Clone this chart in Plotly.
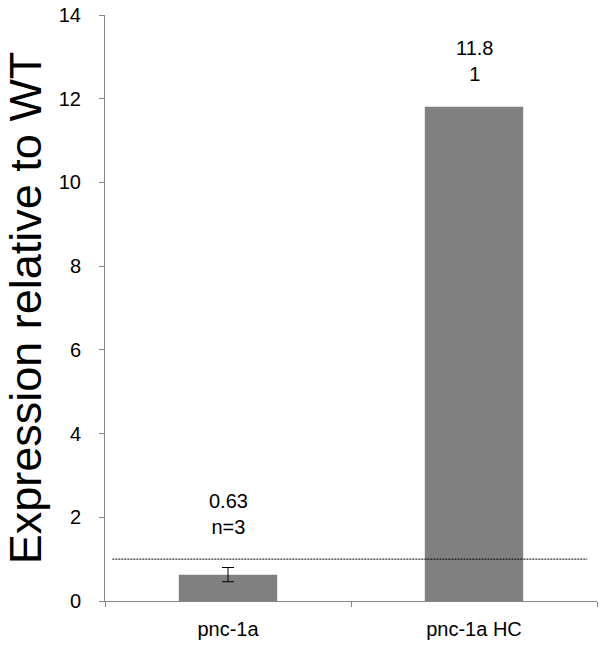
import plotly.graph_objects as go

# --- DATA ---
categories = ["pnc-1a", "pnc-1a HC"]
expression = [0.63, 11.81]
error_up = [0.17, None]
label_values = ["0.63", "11.8<br>1"]
label_n = ["n=3", ""]
wt_level = 1.0

C_BAR = "#808080"
C_AXIS = "#868686"
C_TEXT = "#000000"
FONT = "Liberation Sans, Arial, sans-serif"

fig = go.Figure()

# one trace per bar so only the measured one carries an error bar
for cat, val, err in zip(categories, expression, error_up):
    err_cfg = dict(visible=False)
    if err is not None:
        err_cfg = dict(type="data", array=[err], visible=True,
                       color="#000000", thickness=1, width=6)
    fig.add_trace(go.Bar(
        x=[cat], y=[val], width=0.4,
        marker=dict(color=C_BAR, line=dict(width=0)),
        error_y=err_cfg, showlegend=False
    ))

# data labels above the bars
shifts = [28, 20]
for i, (cat, val, txt, n) in enumerate(zip(categories, expression, label_values, label_n)):
    err = error_up[i] or 0
    text = txt if not n else f"{txt}<br>{n}"
    fig.add_annotation(x=cat, y=val + err, text=text, showarrow=False,
                       yanchor="bottom", yshift=shifts[i],
                       font=dict(size=20, color=C_TEXT, family=FONT))

# WT reference line
fig.add_shape(type="line", xref="x", yref="y", x0=-0.47, x1=1.46,
              y0=wt_level, y1=wt_level,
              line=dict(color="#000000", width=1, dash="2px,1px"))

fig.update_layout(
    width=604, height=649,
    paper_bgcolor="white", plot_bgcolor="white",
    margin=dict(l=105, r=7, t=15, b=48),
    font=dict(family=FONT, color=C_TEXT),
    barmode="overlay",
)
fig.update_xaxes(
    range=[-0.5, 1.5], categoryorder="array", categoryarray=categories,
    showline=True, linecolor=C_AXIS, linewidth=1,
    ticks="outside", tickson="boundaries", ticklen=5, tickcolor=C_AXIS,
    tickfont=dict(size=20, color=C_TEXT, family=FONT), showgrid=False,
    ticklabelposition="outside", ticklabelstandoff=10,
    automargin=False
)
fig.update_yaxes(
    range=[0, 14], dtick=2, showline=True, linecolor=C_AXIS, linewidth=1,
    ticks="outside", ticklen=5, tickcolor=C_AXIS, showgrid=False, zeroline=False,
    tickfont=dict(size=20, color=C_TEXT, family=FONT), automargin=False,
    ticklabelposition="outside", ticklabelstandoff=14, ticklabeloverflow="allow",
    title=dict(text="Expression relative to WT", standoff=28,
               font=dict(size=45, color=C_TEXT, family=FONT))
)

# drop the browser's default body margin so the figure fills the window
fig.write_html("out.html", config={"displayModeBar": False},
               post_script="document.body.style.margin='0';")
